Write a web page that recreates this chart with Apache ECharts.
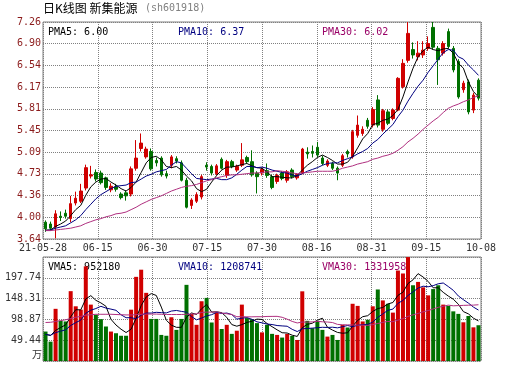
<!DOCTYPE html>
<html><head><meta charset="utf-8">
<script src="https://cdn.jsdelivr.net/npm/echarts@6/dist/echarts.min.js"></script>
<style>html,body{margin:0;padding:0;background:#fff;}#c{width:530px;height:391px;}</style>
</head><body><div id="c"></div>
<script>
const dates = ['2021-05-28',
'2021-06-01','2021-06-02','2021-06-03','2021-06-04','2021-06-07','2021-06-08','2021-06-09','2021-06-10','2021-06-11','2021-06-15','2021-06-16','2021-06-17','2021-06-18','2021-06-21','2021-06-22','2021-06-23','2021-06-24','2021-06-25','2021-06-28','2021-06-29','2021-06-30',
'2021-07-01','2021-07-02','2021-07-05','2021-07-06','2021-07-07','2021-07-08','2021-07-09','2021-07-12','2021-07-13','2021-07-14','2021-07-15','2021-07-16','2021-07-19','2021-07-20','2021-07-21','2021-07-22','2021-07-23','2021-07-26','2021-07-27','2021-07-28','2021-07-29','2021-07-30',
'2021-08-02','2021-08-03','2021-08-04','2021-08-05','2021-08-06','2021-08-09','2021-08-10','2021-08-11','2021-08-12','2021-08-13','2021-08-16','2021-08-17','2021-08-18','2021-08-19','2021-08-20','2021-08-23','2021-08-24','2021-08-25','2021-08-26','2021-08-27','2021-08-30','2021-08-31',
'2021-09-01','2021-09-02','2021-09-03','2021-09-06','2021-09-07','2021-09-08','2021-09-09','2021-09-10','2021-09-13','2021-09-14','2021-09-15','2021-09-16','2021-09-17','2021-09-22','2021-09-23','2021-09-24','2021-09-27','2021-09-28','2021-09-29','2021-09-30',
'2021-10-08'];

const opens = [3.92,3.89,3.84,4.02,4.07,3.98,4.24,4.27,4.49,4.69,
 4.75,4.74,4.66,4.46,4.51,4.39,4.41,4.39,4.82,5.15,
 5.01,5.10,4.95,4.99,4.73,4.87,4.98,4.91,4.62,4.20,
 4.27,4.34,4.87,4.85,4.73,4.97,4.70,4.93,4.79,4.87,
 5.00,4.93,4.74,4.74,4.78,4.68,4.60,4.74,4.62,4.79,
 4.66,4.74,5.09,5.10,5.17,4.99,4.87,4.90,4.82,4.87,
 5.10,5.01,5.37,5.40,5.62,5.54,5.96,5.47,5.76,5.65,
 5.79,6.18,6.62,6.80,6.68,6.71,6.82,7.17,6.82,6.74,
 7.10,6.82,6.60,6.13,6.26,5.79,6.29];
const closes = [3.81,3.82,4.06,4.00,4.02,4.23,4.32,4.44,4.83,4.71,
 4.64,4.58,4.50,4.52,4.47,4.33,4.36,4.81,4.99,5.24,
 5.14,4.81,4.91,4.71,4.69,5.01,4.94,4.62,4.17,4.29,
 4.38,4.68,4.84,4.74,4.86,4.82,4.93,4.85,4.85,4.96,
 4.93,4.71,4.68,4.80,4.70,4.50,4.70,4.65,4.76,4.68,
 4.71,5.14,5.06,5.07,5.04,4.90,4.94,4.82,4.74,5.03,
 5.06,5.43,5.54,5.47,5.52,5.80,5.54,5.78,5.57,5.79,
 6.32,6.57,7.07,6.71,6.74,6.79,6.90,6.84,6.63,6.90,
 6.85,6.46,6.01,6.24,5.76,6.04,5.99];
const lows = [3.76,3.79,3.65,3.94,3.98,3.92,4.20,4.24,4.45,4.65,
 4.60,4.55,4.46,4.42,4.43,4.30,4.28,4.35,4.78,5.10,
 4.98,4.78,4.85,4.68,4.65,4.82,4.90,4.60,4.15,4.14,
 4.24,4.30,4.78,4.70,4.70,4.80,4.66,4.82,4.76,4.84,
 4.90,4.68,4.40,4.70,4.66,4.47,4.56,4.62,4.58,4.65,
 4.63,4.72,4.98,5.00,5.00,4.87,4.84,4.79,4.62,4.84,
 5.00,4.98,5.33,5.36,5.48,5.50,5.50,5.43,5.54,5.62,
 5.77,6.15,6.58,6.65,6.62,6.66,6.78,6.80,6.21,6.70,
 6.82,6.42,5.98,6.08,5.72,5.74,5.95];
const highs = [3.95,3.93,4.12,4.10,4.13,4.36,4.43,4.56,4.88,4.86,
 4.80,4.78,4.68,4.57,4.56,4.42,4.45,4.85,5.29,5.40,
 5.18,5.15,5.00,5.02,4.78,5.04,5.02,4.95,4.66,4.32,
 4.42,4.71,4.92,4.88,4.89,5.00,4.96,4.96,4.88,5.24,
 5.03,5.12,4.77,4.83,4.90,4.71,4.73,4.77,4.79,4.82,
 4.74,5.16,5.17,5.20,5.26,5.03,4.97,4.93,4.85,5.06,
 5.13,5.46,5.70,5.52,5.66,5.84,6.04,5.81,5.80,5.82,
 6.34,6.64,7.26,6.92,6.94,6.94,7.02,7.26,6.86,6.94,
 7.15,6.86,6.64,6.28,6.30,6.08,6.32];
const volumes = [70,46,124,95.5,94,166,130,122,225,134,
 110,99.5,82,70,66,60,60,122,200,217,
 162,100,100,62,60,104,74,100,181,112,
 86,142,150,91.5,115,76,86,64.5,72,134,
 102,99.5,90,68,86,64.5,62,55.7,64.5,59.7,
 50,165.6,95.5,78,95.5,74,58,62,50,86,
 79.6,136,131,94,98,130,170,144,136,115,
 215,208,247,180,188,175,156,171,180,134,
 131,118,112,92,107,80,85];
const ma5 = [3.79,3.79,3.85,3.89,3.94,4.03,4.13,4.20,4.37,4.51,
 4.59,4.64,4.65,4.59,4.54,4.48,4.44,4.50,4.59,4.75,
 4.91,5.00,5.02,4.96,4.85,4.83,4.85,4.79,4.69,4.61,
 4.48,4.43,4.47,4.59,4.70,4.79,4.84,4.84,4.86,4.88,
 4.90,4.86,4.83,4.82,4.76,4.68,4.68,4.67,4.66,4.66,
 4.70,4.79,4.87,4.93,5.00,5.04,5.00,4.95,4.89,4.89,
 4.92,5.02,5.16,5.31,5.40,5.55,5.57,5.62,5.64,5.70,
 5.80,6.01,6.26,6.49,6.68,6.78,6.84,6.80,6.78,6.81,
 6.82,6.74,6.57,6.49,6.26,6.10,6.01];
const ma10 = [3.78,3.79,3.82,3.84,3.86,3.91,3.96,4.03,4.13,4.22,
 4.31,4.38,4.43,4.48,4.52,4.53,4.54,4.58,4.59,4.64,
 4.69,4.72,4.76,4.78,4.80,4.87,4.93,4.91,4.82,4.73,
 4.65,4.64,4.63,4.64,4.65,4.63,4.63,4.66,4.72,4.79,
 4.85,4.85,4.83,4.84,4.82,4.79,4.77,4.75,4.74,4.71,
 4.69,4.73,4.77,4.80,4.83,4.87,4.90,4.91,4.91,4.95,
 4.98,5.01,5.06,5.10,5.15,5.24,5.30,5.39,5.47,5.55,
 5.68,5.79,5.94,6.07,6.19,6.29,6.42,6.53,6.64,6.75,
 6.80,6.79,6.68,6.64,6.54,6.46,6.37];
const ma30 = [3.78,3.78,3.79,3.80,3.81,3.82,3.84,3.86,3.90,3.93,
 3.96,3.98,4.01,4.03,4.06,4.07,4.09,4.13,4.17,4.22,
 4.26,4.30,4.33,4.36,4.40,4.44,4.47,4.50,4.52,4.53,
 4.55,4.58,4.61,4.63,4.66,4.68,4.70,4.71,4.71,4.72,
 4.73,4.74,4.74,4.75,4.76,4.76,4.78,4.77,4.76,4.74,
 4.73,4.74,4.75,4.76,4.77,4.77,4.77,4.77,4.79,4.82,
 4.84,4.86,4.89,4.91,4.93,4.97,4.99,5.02,5.04,5.07,
 5.12,5.18,5.26,5.32,5.39,5.47,5.54,5.61,5.67,5.75,
 5.82,5.86,5.89,5.93,5.96,6.00,6.03];
const vma5 = [63.6,60.4,72.8,79.5,85.9,105.1,121.9,121.5,147.4,155.4,
 144.2,138.1,130.1,99.1,85.5,75.5,67.6,75.6,101.6,131.8,
 152.2,160.2,155.8,128.2,96.8,85.2,80,80,103.8,114.2,
 110.6,124.2,134.2,116.3,116.9,114.9,103.7,86.6,82.7,86.5,
 91.7,94.4,99.5,98.7,89.1,81.6,74.1,67.2,66.5,61.3,
 58.4,79.1,87.1,89.8,96.9,101.7,80.2,73.5,67.9,66,
 67.1,82.7,96.5,105.3,107.7,117.8,124.6,127.2,135.6,139,
 156,163.6,184.2,193,207.6,199.6,189.2,174,174,163.2,
 154.4,146.8,135,117.4,112,101.8,95.2];
const vma10 = [63,61.4,67.5,70.9,74.1,84.4,91.2,97.2,113.5,120.7,
 124.7,130,125.8,123.3,120.5,109.9,102.9,102.9,100.4,108.7,
 113.9,113.9,115.7,114.9,114.3,118.7,120.1,117.9,116,105.5,
 97.9,102.1,107.1,110.1,115.6,112.8,114,110.4,99.5,101.7,
 103.3,99.1,93.1,90.7,87.8,86.7,84.3,83.4,82.6,75.2,
 70,76.6,77.2,78.2,79.1,80.1,79.7,80.3,78.8,81.5,
 84.4,81.5,85,86.6,86.9,92.5,103.7,111.9,120.5,123.4,
 136.9,144.1,155.7,164.3,173.3,177.8,176.4,179.1,183.5,185.4,
 177,168,154.5,145.7,137.6,128.1,121];
const vma30 = [91.5,92,94,96,98,101,104,106,109,110,
 111,111,111,111,110.5,110,109.5,109.5,110,111,
 111.5,111.5,111.5,111,110.5,110.5,110.5,110.5,111,111.6,
 112.1,115.3,116.2,116.1,116.8,113.8,112.3,110.4,105.3,105.3,
 105,105,105.3,105.2,105.9,106,106.1,103.9,99.4,94.1,
 90.4,92.6,92.4,93,94.2,93.2,92.6,91.4,87,86.1,
 85.9,85.7,85.1,85.2,84.6,86.4,89.2,91.8,94,93.3,
 97.1,100.7,106,109.7,113.1,116.8,119.9,123.7,127.6,130.1,
 132.8,131.2,131.7,132.2,132.6,132.8,133.7];

const priceTicks = ['3.64','4.00','4.36','4.73','5.09','5.45','5.81','6.17','6.54','6.90','7.26'];
const volTicks = ['','49.44','98.87','148.31','197.74',''];
const xTicks = ['21-05-28','06-15','06-30','07-15','07-30','08-16','08-31','09-15','10-08'];
const titleMain = '日K线图 新集能源';
const titleCode = '(sh601918)';
const priceLegend = ['PMA5: 6.00','PMA10: 6.37','PMA30: 6.02'];
const volLegend = ['VMA5: 952180','VMA10: 1208741','VMA30: 1331958'];
const volUnit = '万';

const RED = '#d00000', GREEN = '#007000';
const C5 = '#000000', C10 = '#000080', C30 = '#b03080';
const MONO = 'DejaVu Sans Mono';
const gridLine = {show:true, lineStyle:{type:'dotted', color:'#808080', width:1}};

const chart = echarts.init(document.getElementById('c'));
const candleData = opens.map((o,i)=>[o, closes[i], lows[i], highs[i]]);
const lineS = (name, data, color, xi, yi) => ({name, type:'line', data, xAxisIndex:xi, yAxisIndex:yi,
  showSymbol:false, symbol:'none', z:4, lineStyle:{width:1, color}, itemStyle:{color}, silent:true});

chart.setOption({
  animation:false,
  backgroundColor:'#ffffff',
  grid:[
    {left:43, top:22, width:438, height:217, show:true, borderColor:'#808080', borderWidth:1},
    {left:43, top:257, width:438, height:104, show:true, borderColor:'#808080', borderWidth:1}
  ],
  xAxis:[
    {type:'category', gridIndex:0, data:dates, boundaryGap:true, show:false},
    {type:'category', gridIndex:1, data:dates, boundaryGap:true, show:false},
    {type:'value', gridIndex:0, min:0, max:8, interval:1, axisLine:{show:false}, axisTick:{show:false}, axisLabel:{show:false}, splitLine:gridLine},
    {type:'value', gridIndex:1, min:0, max:8, interval:1, axisLine:{show:false}, axisTick:{show:false},
      axisLabel:{show:true, formatter:(v,i)=>xTicks[i]||'', color:'#333333', fontSize:10, fontFamily:MONO, margin:4}, splitLine:gridLine}
  ],
  yAxis:[
    {type:'value', gridIndex:0, min:3.64, max:7.26, interval:0.362, axisLine:{show:false}, axisTick:{show:false},
      axisLabel:{formatter:(v,i)=>priceTicks[i]||'', color:'#8b1a1a', fontSize:10, fontFamily:MONO, margin:2}, splitLine:gridLine},
    {type:'value', gridIndex:1, min:0, max:247.175, interval:49.435, axisLine:{show:false}, axisTick:{show:false},
      axisLabel:{formatter:(v,i)=>volTicks[i]||'', color:'#333333', fontSize:10, fontFamily:MONO, margin:2}, splitLine:gridLine}
  ],
  graphic:[
    {type:'text', z:0, style:{text:titleMain, x:43, y:8, fill:'#000', font:'12px "Noto Sans CJK SC"', verticalAlign:'middle'}},
    {type:'text', z:0, style:{text:titleCode, x:145, y:8, fill:'#808080', font:'10px '+MONO, verticalAlign:'middle'}},
    {type:'text', z:0, style:{text:priceLegend[0], x:48, y:32, fill:C5, font:'10px '+MONO, verticalAlign:'middle'}},
    {type:'text', z:0, style:{text:priceLegend[1], x:178, y:32, fill:C10, font:'10px '+MONO, verticalAlign:'middle'}},
    {type:'text', z:0, style:{text:priceLegend[2], x:322, y:32, fill:'#990066', font:'10px '+MONO, verticalAlign:'middle'}},
    {type:'text', z:0, style:{text:volLegend[0], x:48, y:267, fill:C5, font:'10px '+MONO, verticalAlign:'middle'}},
    {type:'text', z:0, style:{text:volLegend[1], x:178, y:267, fill:C10, font:'10px '+MONO, verticalAlign:'middle'}},
    {type:'text', z:0, style:{text:volLegend[2], x:322, y:267, fill:'#990066', font:'10px '+MONO, verticalAlign:'middle'}},
    {type:'text', z:0, style:{text:volUnit, x:42, y:354, fill:'#333', font:'10px "Noto Sans CJK SC"', align:'right', verticalAlign:'middle'}}
  ],
  series:[
    {type:'candlestick', xAxisIndex:0, yAxisIndex:0, data:candleData, barWidth:3, z:3,
      itemStyle:{color:RED, color0:GREEN, borderColor:RED, borderColor0:GREEN, borderWidth:1}},
    lineS('MA5', ma5, C5, 0, 0),
    lineS('MA10', ma10, C10, 0, 0),
    lineS('MA30', ma30, C30, 0, 0),
    {type:'bar', xAxisIndex:1, yAxisIndex:1, data:volumes, barWidth:4, z:3,
      itemStyle:{color:(p)=> closes[p.dataIndex] >= opens[p.dataIndex] ? RED : GREEN}},
    lineS('VMA5', vma5, C5, 1, 1),
    lineS('VMA10', vma10, C10, 1, 1),
    lineS('VMA30', vma30, C30, 1, 1)
  ]
});
</script></body></html>
